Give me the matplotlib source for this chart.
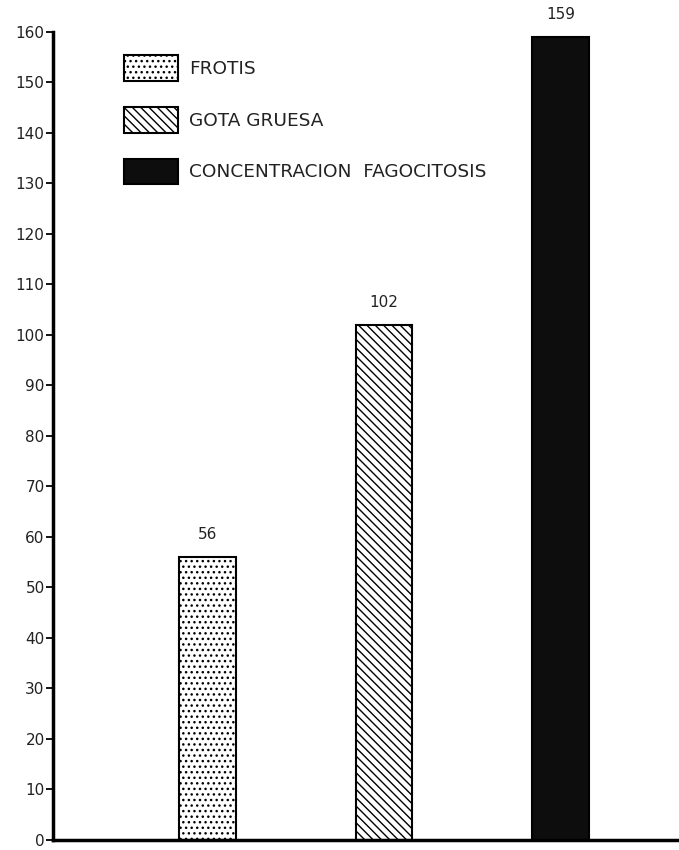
import matplotlib
matplotlib.use("Agg")
import matplotlib.pyplot as plt

categories = ["FROTIS", "GOTA GRUESA", "CONCENTRACION  FAGOCITOSIS"]
values = [56, 102, 159]
yticks = list(range(0, 161, 10))

plt.rcParams['font.family'] = ['DejaVu Sans']
plt.rcParams['hatch.linewidth'] = 1.0

fig = plt.figure(figsize=(6.79, 8.5), dpi=100)
ax = fig.add_axes([0.078, 0.0118, 0.93, 0.9506])

positions = [1, 2, 3]
hatches = ['...', '\\\\\\\\', None]
faces = ['white', 'white', '#0d0d0d']
for p, v, h, fc, lab in zip(positions, values, hatches, faces, categories):
    ax.bar(p, v, width=0.32, facecolor=fc, edgecolor='black',
           hatch=h, linewidth=1.5, label=lab, clip_on=False)
    ax.text(p, v + 3, str(v), ha='center', va='bottom', fontsize=11,
            color='#222222', clip_on=False)

ax.set_xlim(0.126, 3.70)
ax.set_ylim(0, 160)
ax.set_yticks(yticks)
ax.set_yticklabels([str(t) for t in yticks], fontsize=11, color='#222222')
ax.set_xticks([])
for s in ['top', 'right']:
    ax.spines[s].set_visible(False)
ax.spines['left'].set_linewidth(2.5)
ax.spines['bottom'].set_linewidth(2.5)
ax.tick_params(axis='y', direction='out', length=5, width=1.3, pad=1)

leg = ax.legend(loc='upper left', bbox_to_anchor=(124 / 679, 1 - 55 / 850),
                bbox_transform=fig.transFigure, frameon=False, fontsize=13.3,
                handlelength=2.92, handleheight=1.78, labelspacing=1.4,
                handletextpad=0.6, borderpad=0, borderaxespad=0)
for t in leg.get_texts():
    t.set_color('#222222')

fig.savefig("out.png", dpi=100)
